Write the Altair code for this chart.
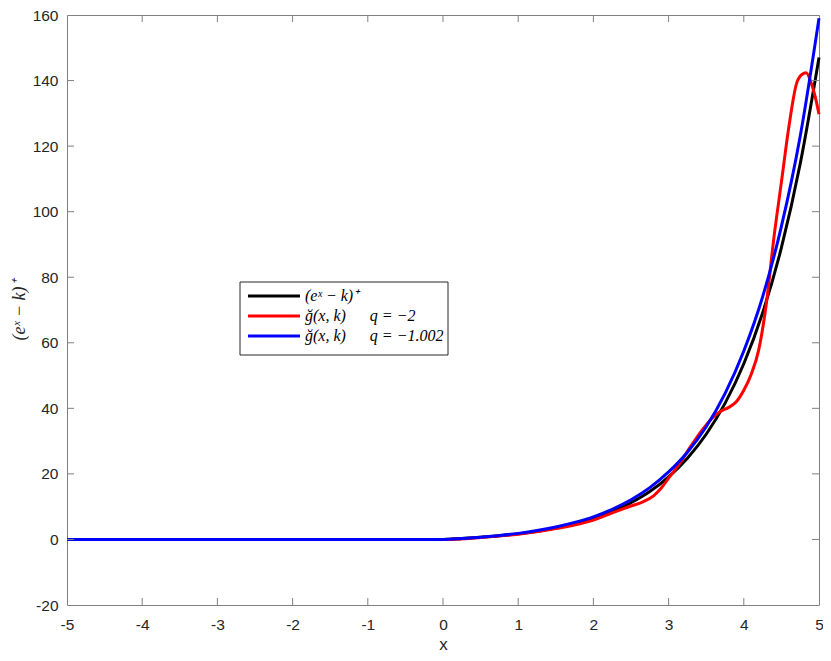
import altair as alt
import pandas as pd

# ---- data ----
x_black = [-5, -4, -3, -2, -1, 0, 0.25, 0.5, 0.75, 1, 1.25, 1.5, 1.75, 2, 2.25,
           2.5, 2.75, 3, 3.25, 3.5, 3.75, 4, 4.25, 4.5, 4.75, 5]
y_black = [0, 0, 0, 0, 0, 0, 0.28, 0.65, 1.1, 1.7, 2.5, 3.5, 4.8, 6.4, 8.5,
           11.2, 14.6, 19.1, 24.8, 32.1, 41.5, 53.6, 69.1, 89.0, 114.6, 147.0]

x_blue = [-5, -4, -3, -2, -1, 0, 0.25, 0.5, 0.75, 1, 1.25, 1.5, 1.75, 2, 2.25,
          2.5, 2.75, 3, 3.25, 3.5, 3.75, 4, 4.25, 4.5, 4.75, 5]
y_blue = [0, 0, 0, 0, 0, 0, 0.3, 0.7, 1.2, 1.85, 2.7, 3.8, 5.2, 6.9, 9.2,
          12.1, 15.8, 20.6, 26.6, 34.4, 44.5, 57.5, 74.0, 95.5, 123.0, 159.0]

x_red = [-5, -4, -3, -2, -1, 0, 0.5, 1, 1.5, 2, 2.25, 2.5, 2.65, 2.8, 2.9, 3.0,
         3.15, 3.3, 3.45, 3.6, 3.7, 3.8, 3.9, 4.0, 4.1, 4.2, 4.3, 4.4, 4.5, 4.6,
         4.7, 4.77, 4.83, 4.9, 4.95, 5.0]
y_red = [0, 0, 0, 0, 0, 0, 0.6, 1.6, 3.3, 5.9, 8.1, 10.2, 11.4, 13.3, 15.6, 18.7,
         23.3, 28.6, 33.5, 37.5, 39.2, 40.3, 42.0, 45.5, 50.5, 58.0, 72.0, 92.0, 109.0, 126.0,
         139.0, 141.8, 142.4, 139.0, 135.0, 129.7]

series_names = ["(e\u02e3 \u2212 k)\u207a",
                "\u011f(x, k)\u2003\u2002q = \u22122",
                "\u011f(x, k)\u2003\u2002q = \u22121.002"]
series_colors = ["#000000", "#ff0000", "#0000ff"]

x_ticks = [-5, -4, -3, -2, -1, 0, 1, 2, 3, 4, 5]
y_ticks = [-20, 0, 20, 40, 60, 80, 100, 120, 140, 160]

# ---- layout / style ----
W, H = 752, 590
LEFT = 67  # page x of plot left
TOP = 15   # page y of plot top
GRAY = "#808080"
TXT = "#262626"

xs = alt.Scale(domain=[-5, 5], nice=False, zero=False)
ys = alt.Scale(domain=[-20, 160], nice=False, zero=False)
cs = alt.Scale(domain=series_names, range=series_colors)

xaxis = alt.Axis(title="x", values=x_ticks, ticks=False, domain=False, grid=False,
                 labelExpr="'' + datum.value", labelFont="Liberation Sans",
                 labelFontSize=15.5, labelColor=TXT, labelPadding=12, labelFlush=False,
                 titleFont="Liberation Sans", titleFontSize=17, titleFontWeight="normal",
                 titleColor=TXT, titleY=44, titleBaseline="alphabetic")
yaxis = alt.Axis(title="(e\u02e3 \u2212 k)\u207a", values=y_ticks, ticks=False, domain=False,
                 grid=False, labelExpr="'' + datum.value", labelFont="Liberation Sans",
                 labelFontSize=15.5, labelColor=TXT, labelPadding=9, labelFlush=False,
                 titleFont="Liberation Serif", titleFontSize=18, titleFontStyle="italic",
                 titleFontWeight="normal", titleColor=TXT, titleAngle=270,
                 titleX=-48, titleY=H / 2, titleAlign="center", titleBaseline="middle")


def series_line(xv, yv, name):
    df = pd.DataFrame({"x": xv, "y": yv, "series": name})
    return alt.Chart(df).mark_line(strokeWidth=3, interpolate="monotone").encode(
        x=alt.X("x:Q", scale=xs, axis=xaxis),
        y=alt.Y("y:Q", scale=ys, axis=yaxis),
        color=alt.Color("series:N", scale=cs, legend=None),
    )


black = series_line(x_black, y_black, series_names[0])
red = series_line(x_red, y_red, series_names[1])
blue = series_line(x_blue, y_blue, series_names[2])

xt = pd.DataFrame({"v": x_ticks[1:-1]})
yt = pd.DataFrame({"v": y_ticks[1:-1]})
tick_b = alt.Chart(xt).mark_rule(color=GRAY, strokeWidth=1).encode(
    x=alt.X("v:Q", scale=xs, axis=xaxis), y=alt.value(H), y2=alt.value(H - 7))
tick_t = alt.Chart(xt).mark_rule(color=GRAY, strokeWidth=1).encode(
    x=alt.X("v:Q", scale=xs, axis=xaxis), y=alt.value(0), y2=alt.value(7))
tick_l = alt.Chart(yt).mark_rule(color=GRAY, strokeWidth=1).encode(
    y=alt.Y("v:Q", scale=ys, axis=yaxis), x=alt.value(0), x2=alt.value(7))
tick_r = alt.Chart(yt).mark_rule(color=GRAY, strokeWidth=1).encode(
    y=alt.Y("v:Q", scale=ys, axis=yaxis), x=alt.value(W - 7), x2=alt.value(W))

# ---- legend box (MATLAB style) ----
LX0, LX1, LY0, LY1 = 240 - LEFT, 448 - LEFT, 282 - TOP, 355 - TOP
box = alt.Chart(pd.DataFrame({"a": [0]})).mark_rect(
    fill="white", stroke=TXT, strokeWidth=1).encode(
    x=alt.value(LX0), x2=alt.value(LX1), y=alt.value(LY0), y2=alt.value(LY1))

legend_layers = []
for i, name in enumerate(series_names):
    d = pd.DataFrame({"series": [name]})
    yy = 296 - TOP + 20 * i
    legend_layers.append(alt.Chart(d).mark_rule(strokeWidth=3).encode(
        x=alt.value(248 - LEFT), x2=alt.value(300 - LEFT), y=alt.value(yy),
        color=alt.Color("series:N", scale=cs, legend=None)))
    legend_layers.append(alt.Chart(d).mark_text(
        align="left", baseline="middle", font="Liberation Serif", fontSize=16,
        fontStyle="italic", color="#000000").encode(
        x=alt.value(305 - LEFT), y=alt.value(yy), text="series:N"))

chart = alt.layer(black, red, blue, tick_b, tick_t, tick_l, tick_r, box, *legend_layers).properties(
    width=W, height=H,
    autosize=alt.AutoSizeParams(type="none"),
    padding={"left": LEFT - 8, "top": TOP - 8, "right": 815 - (LEFT - 8) - W, "bottom": 48},
    background="white",
).configure_view(stroke=GRAY, strokeWidth=1)

chart.save("out.html", embed_options={"renderer": "svg", "actions": False})
